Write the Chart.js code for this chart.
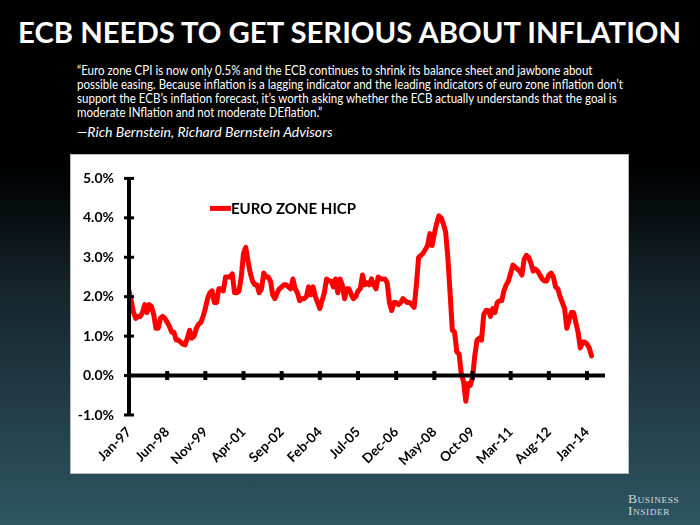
<!DOCTYPE html>
<html>
<head>
<meta charset="utf-8">
<script src="https://cdn.jsdelivr.net/npm/chart.js@4.4.1/dist/chart.umd.min.js"></script>
<style>
  html, body { margin: 0; padding: 0; }
  body {
    width: 700px; height: 525px; position: relative; overflow: hidden;
    background: linear-gradient(180deg, #000 0%, #000 32%, #15252b 55%, #2e5563 100%);
    font-family: Lato, "Open Sans", sans-serif; color: #fff;
  }
  #title { position: absolute; left: 18px; top: 18px; font-size: 28px; line-height: 28px; font-weight: bold; white-space: nowrap; transform-origin: left top; }
  .q { position: absolute; left: 77px; font-size: 12.5px; line-height: 14px; white-space: nowrap; transform-origin: left top; }
  #by { font-style: italic; font-size: 14px; line-height: 16px; }
  #box { position: absolute; left: 70px; top: 154px; width: 557px; height: 318px; background: #fff; border: 1px solid #b9b9b9; }
  #bi { position: absolute; left: 628px; top: 493px; color: #d3d9db; font-family: "Liberation Serif", "DejaVu Serif", serif; font-variant: small-caps; font-size: 13px; line-height: 12px; letter-spacing: 0.5px; }
  #bi div { white-space: nowrap; transform-origin: left top; }
</style>
</head>
<body>
<div id="title">ECB NEEDS TO GET SERIOUS ABOUT INFLATION</div>
<div class="q" style="top:64px">“Euro zone CPI is now only 0.5% and the ECB continues to shrink its balance sheet and jawbone about</div>
<div class="q" id="q2" style="top:78px">possible easing. Because inflation is a lagging indicator and the leading indicators of euro zone inflation don’t</div>
<div class="q" style="top:92px">support the ECB’s inflation forecast, it’s worth asking whether the ECB actually understands that the goal is</div>
<div class="q" style="top:106px">moderate INflation and not moderate DEflation.”</div>
<div class="q" id="by" style="top:124px">—Rich Bernstein, Richard Bernstein Advisors</div>
<div id="box"><canvas id="myChart" width="557" height="318"></canvas></div>
<div id="bi"><div>Business</div><div>Insider</div></div>
<script>
// euro zone HICP, % y/y, monthly from Jan-97 to Mar-14
var hicp = [
  2.15, 1.9, 1.6, 1.45, 1.5, 1.5, 1.6, 1.8, 1.6, 1.8, 1.75, 1.55,
  1.2, 1.2, 1.45, 1.5, 1.45, 1.35, 1.25, 1.1, 1.1, 0.9, 0.9, 0.85,
  0.8, 0.78, 0.95, 1.15, 0.95, 1.0, 1.2, 1.3, 1.35, 1.5, 1.7, 1.95,
  2.1, 2.15, 1.85, 1.85, 2.2, 2.2, 2.15, 2.5, 2.5, 2.5, 2.58, 2.1,
  2.1, 2.15, 2.5, 3.1, 3.25, 2.9, 2.6, 2.4, 2.3, 2.3, 2.1, 2.2,
  2.6, 2.5, 2.5, 2.4, 2.05, 1.95, 2.1, 2.2, 2.25, 2.3, 2.3, 2.25,
  2.2, 2.45, 2.2, 2.1, 1.9, 1.95, 1.95, 2.0, 2.25, 2.05, 2.25, 2.0,
  1.85, 1.7, 1.9, 2.1, 2.45, 2.4, 2.4, 2.25, 2.45, 2.1, 2.45, 2.3,
  1.95, 2.2, 2.2, 2.05, 1.95, 2.0, 2.15, 2.2, 2.55, 2.3, 2.35, 2.3,
  2.45, 2.3, 2.2, 2.5, 2.45, 2.45, 2.45, 2.35, 1.85, 1.65, 1.85, 1.85,
  1.8, 1.85, 1.95, 1.9, 1.85, 1.85, 1.8, 1.73, 2.3, 3.0, 3.05, 3.1,
  3.2, 3.3, 3.6, 3.3, 3.6, 3.85, 4.05, 4.0, 3.85, 3.65, 3.0, 2.1,
  1.15, 1.1, 0.6, 0.55, 0.05, -0.15, -0.65, -0.2, -0.25, -0.05, 0.5, 0.9,
  0.95, 0.9, 1.55, 1.65, 1.65, 1.5, 1.7, 1.6, 1.85, 1.9, 1.9, 2.15,
  2.3, 2.4, 2.6, 2.8, 2.75, 2.7, 2.65, 2.55, 2.95, 3.05, 3.0, 2.85,
  2.65, 2.7, 2.65, 2.55, 2.45, 2.4, 2.4, 2.55, 2.6, 2.5, 2.25, 2.2,
  2.0, 1.85, 1.7, 1.2, 1.4, 1.6, 1.6, 1.35, 1.1, 0.7, 0.85, 0.85,
  0.8, 0.7, 0.5
];
var xTickLabels = ['Jan-97', 'Jun-98', 'Nov-99', 'Apr-01', 'Sep-02', 'Feb-04', 'Jul-05',
                   'Dec-06', 'May-08', 'Oct-09', 'Mar-11', 'Aug-12', 'Jan-14'];
var tickEvery = 17;     // months between labels
var monthsShown = 212;  // axis runs a little past the last point
var yMin = -1, yMax = 5;

// squeeze text to the widths of the slide
function fitWidth(el, w) {
  el.style.transform = 'scaleX(' + (w / el.scrollWidth) + ')';
}
fitWidth(document.getElementById('title'), 663);
var qScale = 546 / document.getElementById('q2').scrollWidth;
document.querySelectorAll('.q').forEach(function (el) {
  if (el.id !== 'by') el.style.transform = 'scaleX(' + qScale + ')';
});
fitWidth(document.getElementById('by'), 256);
document.querySelectorAll('#bi div').forEach(function (el) { fitWidth(el, 51); });

// thick black axes with ticks crossing the line, like the Excel original
var axisMarks = {
  id: 'axisMarks',
  afterDatasetsDraw: function (chart) {
    var ctx = chart.ctx, x = chart.scales.x, y = chart.scales.y;
    var x0 = x.getPixelForValue(0), y0 = y.getPixelForValue(0);
    ctx.save();
    ctx.strokeStyle = '#000';
    ctx.fillStyle = '#000';
    ctx.lineWidth = 4;
    ctx.beginPath(); ctx.moveTo(x0, y.top); ctx.lineTo(x0, y.bottom); ctx.stroke();
    ctx.beginPath(); ctx.moveTo(x.left, y0); ctx.lineTo(x.right, y0); ctx.stroke();
    y.ticks.forEach(function (t) {
      var py = y.getPixelForValue(t.value);
      ctx.fillRect(x0 - 5, py - 1.5, 10, 3);
    });
    x.ticks.forEach(function (t) {
      var px = x.getPixelForValue(t.value);
      ctx.fillRect(px - 2, y0 - 4.5, 4, 9);
    });
    ctx.restore();
  }
};

// legend sits inside the plot
var insideLegend = {
  id: 'insideLegend',
  afterDraw: function (chart) {
    var ctx = chart.ctx, a = chart.chartArea, ds = chart.data.datasets[0];
    var lx = a.left + 81, ly = a.top + 30;
    ctx.save();
    ctx.strokeStyle = ds.borderColor;
    ctx.lineWidth = 5;
    ctx.beginPath(); ctx.moveTo(lx, ly); ctx.lineTo(lx + 21, ly); ctx.stroke();
    ctx.fillStyle = '#000';
    ctx.font = 'bold 15px Lato';
    ctx.textBaseline = 'middle';
    ctx.fillText(ds.label, lx + 21, ly + 1);
    ctx.restore();
  }
};

var ctx = document.getElementById('myChart').getContext('2d');
var chart = new Chart(ctx, {
  type: 'line',
  data: {
    datasets: [{
      label: 'EURO ZONE HICP',
      data: hicp.map(function (v, i) { return { x: i, y: v }; }),
      borderColor: '#ff0000',
      borderWidth: 5,
      borderJoinStyle: 'round',
      borderCapStyle: 'round',
      pointRadius: 0,
      tension: 0
    }]
  },
  options: {
    responsive: false,
    animation: false,
    layout: { padding: { top: 12, right: 23, left: 0, bottom: 0 } },
    plugins: { legend: { display: false }, tooltip: { enabled: false } },
    scales: {
      x: {
        type: 'linear', min: 0, max: monthsShown,
        border: { display: false },
        grid: { display: false, drawTicks: false },
        ticks: {
          stepSize: tickEvery, includeBounds: false, autoSkip: false,
          maxRotation: 45, minRotation: 45, padding: 9,
          color: '#000', font: { family: 'Lato', weight: 'bold', size: 13.5 },
          callback: function (v) { return xTickLabels[v / tickEvery] || ''; }
        },
        afterFit: function (s) { s.height = 58; }
      },
      y: {
        min: yMin, max: yMax,
        border: { display: false },
        grid: { display: false, drawTicks: false },
        ticks: {
          stepSize: 1, padding: 15, color: '#000', font: { family: 'Lato', weight: 'bold', size: 14 },
          callback: function (v) { return v.toFixed(1) + '%'; }
        },
        afterFit: function (s) { s.width = 58; }
      }
    }
  },
  plugins: [axisMarks, insideLegend]
});
</script>
</body>
</html>
